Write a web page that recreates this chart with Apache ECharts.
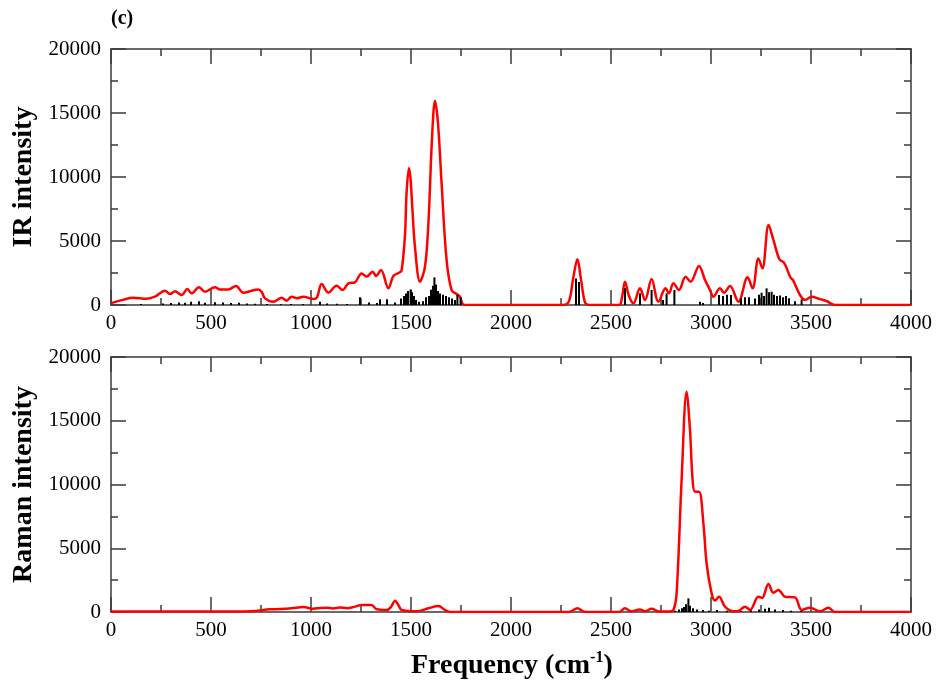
<!DOCTYPE html>
<html>
<head>
<meta charset="utf-8">
<script src="https://cdn.jsdelivr.net/npm/echarts@6/dist/echarts.min.js"></script>
<style>
  html, body { margin: 0; padding: 0; background: #fff; }
  #chart { width: 938px; height: 682px; }
</style>
</head>
<body>
<div id="chart"></div>
<script>
// IR spectrum (broadened curve)
const irFreq = [0, 60, 110, 178, 220, 270, 295, 320, 353, 382, 403, 440, 470, 520, 545, 587, 625, 662, 700, 737, 753, 770, 812, 853, 878, 903, 928, 962, 1012, 1030, 1053, 1087, 1128, 1158, 1187, 1220, 1253, 1278, 1308, 1325, 1350, 1387, 1412, 1440, 1453, 1470, 1478, 1490, 1498, 1507, 1520, 1545, 1570, 1587, 1605, 1620, 1635, 1653, 1678, 1703, 1728, 1745, 1760, 1780, 2260, 2290, 2310, 2332, 2350, 2370, 2390, 2540, 2555, 2570, 2590, 2612, 2645, 2670, 2703, 2737, 2773, 2790, 2812, 2840, 2873, 2898, 2940, 2970, 2995, 3012, 3045, 3065, 3095, 3137, 3183, 3208, 3237, 3257, 3288, 3312, 3342, 3365, 3398, 3410, 3445, 3470, 3503, 3545, 3578, 3620, 4000];
const irInt = [150, 400, 570, 490, 650, 1120, 860, 1070, 780, 1250, 910, 1380, 1040, 1380, 1220, 1220, 1480, 960, 1100, 1220, 1040, 520, 260, 570, 340, 650, 520, 650, 470, 600, 1640, 960, 1510, 1170, 1690, 1770, 2470, 2210, 2600, 2270, 2730, 1300, 2270, 2520, 2700, 5500, 8800, 10700, 9800, 7500, 4500, 1820, 3000, 6380, 13000, 15960, 14200, 9500, 3500, 1170, 860, 650, 50, 0, 0, 300, 2000, 3570, 2000, 200, 0, 0, 600, 1820, 700, 130, 1300, 390, 2030, 260, 1300, 910, 1690, 1170, 2210, 1820, 3050, 1950, 1170, 650, 1300, 960, 1480, 260, 2160, 1300, 3640, 2860, 6250, 5080, 3570, 3310, 2130, 1950, 780, 390, 650, 460, 310, 0, 0];

// IR stick spectrum
const irStickFreq = [150, 260, 300, 340, 370, 400, 440, 470, 520, 560, 600, 640, 680, 720, 780, 850, 900, 960, 1045, 1080, 1130, 1180, 1245, 1290, 1330, 1345, 1380, 1420, 1450, 1465, 1475, 1485, 1498, 1505, 1515, 1525, 1540, 1560, 1575, 1590, 1600, 1610, 1617, 1625, 1635, 1645, 1660, 1675, 1690, 1705, 1720, 1732, 1748, 2325, 2340, 2570, 2645, 2703, 2760, 2778, 2817, 2945, 2960, 3040, 3060, 3080, 3100, 3150, 3170, 3190, 3220, 3240, 3253, 3265, 3278, 3290, 3303, 3315, 3330, 3345, 3360, 3375, 3390, 3420, 3453];
const irStickInt = [80, 120, 150, 200, 180, 250, 300, 180, 220, 200, 150, 180, 120, 100, 80, 60, 80, 70, 260, 120, 100, 80, 600, 200, 150, 440, 440, 200, 500, 700, 900, 1100, 1220, 1000, 700, 400, 250, 300, 600, 700, 1200, 1500, 2160, 1600, 1100, 900, 800, 700, 600, 500, 400, 780, 600, 2080, 1800, 1300, 910, 1170, 400, 910, 1170, 260, 150, 780, 700, 800, 780, 500, 600, 600, 500, 800, 960, 700, 1300, 1000, 1040, 800, 700, 750, 600, 700, 520, 300, 440];

// Raman spectrum (broadened curve)
const ramanFreq = [0, 500, 700, 795, 850, 903, 962, 1013, 1045, 1078, 1110, 1145, 1180, 1220, 1253, 1303, 1328, 1378, 1400, 1420, 1440, 1453, 1528, 1587, 1637, 1670, 1700, 2290, 2332, 2370, 2540, 2570, 2600, 2645, 2670, 2703, 2740, 2790, 2812, 2828, 2853, 2878, 2895, 2908, 2920, 2940, 2962, 2978, 3003, 3020, 3040, 3070, 3112, 3140, 3170, 3195, 3237, 3255, 3287, 3312, 3337, 3370, 3420, 3453, 3495, 3545, 3587, 3620, 4000];
const ramanInt = [30, 30, 60, 210, 230, 290, 390, 250, 320, 340, 280, 350, 300, 420, 550, 550, 210, 150, 400, 890, 450, 160, 60, 290, 470, 150, 0, 0, 290, 0, 0, 290, 50, 200, 60, 250, 40, 40, 160, 1460, 10350, 17270, 14270, 10350, 9430, 9430, 6950, 3820, 1460, 900, 1200, 420, 50, 100, 420, 160, 1200, 1100, 2200, 1510, 1720, 1200, 1150, 160, 340, 50, 340, 0, 0];

// Raman stick spectrum
const ramanStickFreq = [2820, 2840, 2855, 2865, 2875, 2887, 2895, 2910, 2930, 2960, 2990, 3030, 3080, 3150, 3200, 3240, 3270, 3290, 3320, 3360, 3400, 3450];
const ramanStickInt = [100, 200, 300, 400, 600, 1070, 500, 300, 200, 150, 100, 150, 100, 80, 120, 200, 250, 340, 200, 150, 100, 80];

const freqTicks = { min: 0, max: 4000, interval: 500 };
const intTicks = { min: 0, max: 20000, interval: 5000 };

const zip = (a, b) => a.map((v, i) => [v, b[i]]);

const serif = 'Liberation Serif';
const frameColor = '#3a3a3a';

const makeX = (grid, pos, showLabel) => ({
  gridIndex: grid,
  type: 'value',
  position: pos,
  min: freqTicks.min,
  max: freqTicks.max,
  interval: freqTicks.interval,
  axisLine: { show: true, onZero: false, lineStyle: { color: frameColor, width: 1.5 } },
  axisTick: { show: true, inside: true, length: 15, lineStyle: { color: frameColor, width: 1.5 } },
  minorTick: { show: true, splitNumber: 2, length: 7, lineStyle: { color: frameColor, width: 1.5 } },
  splitLine: { show: false },
  axisLabel: { show: showLabel, color: '#000', fontFamily: serif, fontSize: 21, margin: 8, formatter: v => String(v) }
})

const makeY = (grid, pos, showLabel, name) => ({
  gridIndex: grid,
  type: 'value',
  position: pos,
  min: intTicks.min,
  max: intTicks.max,
  interval: intTicks.interval,
  name: name,
  nameLocation: 'middle',
  nameGap: 66,
  nameTextStyle: { color: '#000', fontFamily: serif, fontSize: 28, fontWeight: 'bold' },
  axisLine: { show: true, onZero: false, lineStyle: { color: frameColor, width: 1.5 } },
  axisTick: { show: true, inside: true, length: 15, lineStyle: { color: frameColor, width: 1.5 } },
  minorTick: { show: true, splitNumber: 2, length: 7, lineStyle: { color: frameColor, width: 1.5 } },
  splitLine: { show: false },
  axisLabel: { show: showLabel, color: '#000', fontFamily: serif, fontSize: 21, margin: 10, formatter: v => String(v) }
})

const chart = echarts.init(document.getElementById('chart'))

chart.setOption({
  backgroundColor: '#fff',
  animation: false,
  grid: [
    { left: 111, top: 49, width: 800, height: 256 },
    { left: 111, top: 357, width: 800, height: 255 }
  ],
  xAxis: [
    makeX(0, 'bottom', true),
    makeX(0, 'top', false),
    makeX(1, 'bottom', true),
    makeX(1, 'top', false)
  ],
  yAxis: [
    makeY(0, 'left', true, 'IR intensity'),
    makeY(0, 'right', false, ''),
    makeY(1, 'left', true, 'Raman intensity'),
    makeY(1, 'right', false, '')
  ],
  graphic: [
    {
      type: 'text', left: 111, top: 9,
      style: { text: '(c)', fontFamily: serif, fontSize: 20, fontWeight: 'bold', fill: '#000' }
    },
    {
      type: 'text', left: 411, top: 650,
      style: {
        text: '{a|Frequency (cm}{s|-1}{a|)}',
        rich: {
          a: { fontFamily: serif, fontSize: 28, fontWeight: 'bold', fill: '#000', verticalAlign: 'bottom' },
          s: { fontFamily: serif, fontSize: 16, fontWeight: 'bold', fill: '#000', verticalAlign: 'top', padding: [0, 0, 14, 0] }
        }
      }
    }
  ],
  series: [
    {
      type: 'line', xAxisIndex: 0, yAxisIndex: 0,
      data: zip(irFreq, irInt),
      smooth: 0.35, showSymbol: false,
      lineStyle: { color: '#ff0000', width: 2.5 }, z: 2
    },
    {
      type: 'bar', xAxisIndex: 0, yAxisIndex: 0,
      data: zip(irStickFreq, irStickInt),
      barWidth: 2, itemStyle: { color: '#000' }, z: 3
    },
    {
      type: 'line', xAxisIndex: 2, yAxisIndex: 2,
      data: zip(ramanFreq, ramanInt),
      smooth: 0.35, showSymbol: false,
      lineStyle: { color: '#ff0000', width: 2.5 }, z: 2
    },
    {
      type: 'bar', xAxisIndex: 2, yAxisIndex: 2,
      data: zip(ramanStickFreq, ramanStickInt),
      barWidth: 2, itemStyle: { color: '#000' }, z: 3
    }
  ]
})
</script>
</body>
</html>
